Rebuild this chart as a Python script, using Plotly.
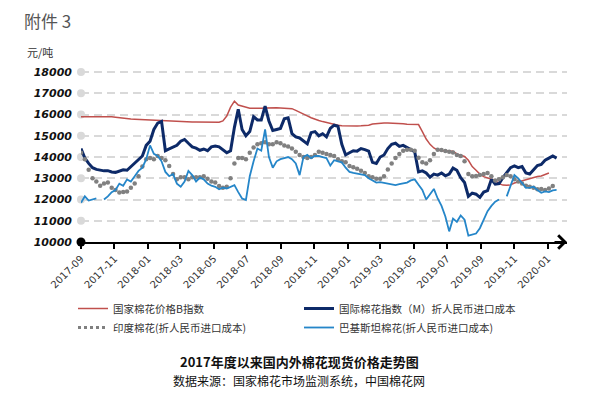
import pandas as pd
import plotly.graph_objects as go

# ---------------- data (weekly samples) ----------------
dates = pd.date_range("2017-09-01", periods=125, freq="7D")

cn_b_index = [
    15900, 15900, 15920, 15930, 15930, 15930, 15920, 15910, 15900, 15880,
    15850, 15830, 15810, 15790, 15780, 15770, 15750, 15740, 15730, 15720,
    15710, 15710, 15700, 15700, 15690, 15680, 15670, 15660, 15660, 15650,
    15650, 15650, 15640, 15630, 15620, 15620, 15640, 15700, 15930, 16350,
    16630, 16450, 16400, 16350, 16300, 16300, 16290, 16300, 16310, 16320,
    16320, 16320, 16310, 16310, 16300, 16280, 16200, 16100, 16030, 15940,
    15850, 15770, 15720, 15670, 15620, 15580, 15540, 15500, 15480, 15470,
    15470, 15460, 15460, 15470, 15480, 15500, 15560, 15580, 15590, 15600,
    15600, 15600, 15600, 15590, 15570, 15550, 15540, 15540, 15530, 15200,
    14850, 14600, 14430, 14330, 14300, 14290, 14290, 14270, 14150, 14080,
    14030, 13850, 13550, 13380, 13200, 13080, 13030, 12980, 12900, 12750,
    12680, 12670, 12690, 12780, 12830, 12870, 12950, 13000, 13050, 13080,
    13110, 13180, 13250, None, None,
]

intl_m_index = [
    14400, 13950, 13700, 13500, 13420, 13380, 13350, 13360, 13300, 13280,
    13330, 13400, 13380, 13550, 13700, 13900, 14050, 14550, 14750, 15300,
    15600, 15680, 14300, 14380, 14450, 14550, 14750, 14830, 14650, 14480,
    14420, 14320, 14380, 14300, 14480, 14520, 14480, 14350, 14200, 14300,
    15400, 16250, 15300, 15000, 15200, 15900, 15750, 15750, 16400, 15700,
    15250, 15300, 15350, 15800, 15850, 15100, 14950, 14900, 14750, 14620,
    15150, 15200, 15000, 15100, 14950, 15350, 15500, 15450, 14600, 14100,
    14200, 14300, 14280, 14400, 14350, 14280, 13750, 13700, 14000, 14100,
    14400, 14600, 14650, 14500, 14550, 14450, 14350, 14250, 13300, 13350,
    13250, 13050, 13200, 13150, 13250, 13120, 13200, 13480, 13380, 13030,
    12800, 12150, 12300, 12250, 12100, 12350, 12420, 12950, 12720, 12750,
    13030, 13250, 13500, 13580, 13500, 13550, 13250, 13200, 13400, 13600,
    13650, 13850, 13950, 14050, 13950,
]

india_cost = [
    14200, 13900, 13400, 13000, 12850, 12650, 12750, 12800, 12550, 12450,
    12330, 12350, 12380, 12550, 12750, 13100, 13550, 13900, 13950, 13900,
    14050, 13950, 13850, 13580, 13200, 12950, 13050, 13050, 12950, 13050,
    13050, 13050, 13100, 12980, 12850, 12800, 12640, 12560, 12600, 13000,
    13700, 13950, 13950, 13900, 14200, 14450, 14600, 14650, 14700, 14600,
    14600, 14700, 14650, 14550, 14500, 14400, 14250, 14100, 14000, 13950,
    14000, 14100, 14250, 14200, 14150, 14100, 14050, 13900, 13800, 13750,
    13580, 13520, 13450, 13350, 13250, 13100, 13050, 12980, 12980, 13100,
    13420, 13700, 13950, 14150, 14300, 14350, 14350, 14300, 13970, 13750,
    13700, 13850, 14150, 14350, 14330, 14280, 14250, 14220, 14100, 14050,
    13800, 13200, 13100, 13110, 13150, 13200, 13250, 13100, 12900, 12950,
    13050, 13150, 13100, 12950, 12850, 12750, 12650, 12600, 12560, 12480,
    12500, 12450, 12520, 12640, None,
]

pakistan_cost = [
    11850, 12150, 11950, 12000, 12050, None, 12000, 12150, 12350, 12450,
    12750, 12650, 12950, 12850, 13100, 13350, 13500, 13900, 14550, 14150,
    14050, 13800, 13300, 13100, 13200, 12750, 12600, 12850, 13350, 13150,
    12850, 13030, 12950, 12750, 12650, 12600, 12480, 12560, 12520, 12600,
    12680, 12350, 12050, 11980, 13100, 13800, 14400, 14300, 15300, 14000,
    13500, 13800, 13900, 13950, 14000, 13900, 13700, 13150, 14000, 14100,
    13950, 14050, 14050, 14000, 13950, 13600, 13850, 13800, 13750, 13500,
    13300, 13250, 13220, 13200, 13150, 13000, 12880, 12800, 12820, 12780,
    12750, 12700, 12680, 12720, 12750, 12800, 12900, 12950, 12700, 12450,
    12000, 12250, 12500, 12050, 11700, 11200, 10500, 11100, 10950, 11250,
    11050, 10300, 10350, 10400, 10650, 11050, 11450, 11700, 11900, 12000,
    None, 12150, 12700, 13150, 13000, 12800, 12550, 12560, 12600, 12450,
    12320, 12380, 12350, 12430, 12450,
]

series_names = [
    "国家棉花价格B指数",
    "国际棉花指数（M）折人民币进口成本",
    "印度棉花(折人民币进口成本)",
    "巴基斯坦棉花(折人民币进口成本)",
]

y_ticks = [10000, 11000, 12000, 13000, 14000, 15000, 16000, 17000, 18000]
x_range = ["2017-09-01", "2020-02-05"]

# ---------------- figure ----------------
W, H = 596, 395
L, R, T, B = 81, 29, 70, 153

fig = go.Figure()

# grid-line start dots (decoration at the left end of each gridline)
fig.add_trace(go.Scatter(
    x=[x_range[0]] * (len(y_ticks) - 1), y=y_ticks[1:], mode="markers",
    marker=dict(size=8, color="#d9d9d9"), showlegend=False, hoverinfo="skip",
    cliponaxis=False,
))

fig.add_trace(go.Scatter(
    x=dates, y=cn_b_index, mode="lines", name=series_names[0],
    line=dict(color="#c0504d", width=1.5), connectgaps=False,
))
fig.add_trace(go.Scatter(
    x=dates, y=intl_m_index, mode="lines", name=series_names[1],
    line=dict(color="#0d2a68", width=3),
))
# India: dotted (markers) + legend-only entry with dotted line
fig.add_trace(go.Scatter(
    x=dates, y=india_cost, mode="markers", showlegend=False,
    marker=dict(size=4.5, color="#808080"),
))
fig.add_trace(go.Scatter(
    x=[None], y=[None], mode="lines", name=series_names[2],
    line=dict(color="#808080", width=3, dash="dot"),
))
fig.add_trace(go.Scatter(
    x=dates, y=pakistan_cost, mode="lines", name=series_names[3],
    line=dict(color="#2586c9", width=1.8), connectgaps=False,
))

# origin dot
fig.add_trace(go.Scatter(
    x=[x_range[0]], y=[y_ticks[0]], mode="markers",
    marker=dict(size=9, color="#000000"), showlegend=False, hoverinfo="skip",
    cliponaxis=False,
))

pw = W - L - R
ph = H - T - B

def px(xpix):
    return (xpix - L) / pw

def py(ypix):
    return (H - B - ypix) / ph

fig.update_layout(
    width=W, height=H,
    margin=dict(l=L, r=R, t=T, b=B),
    paper_bgcolor="white", plot_bgcolor="white",
    font=dict(family="Noto Sans CJK SC", color="#333333"),
    showlegend=True,
    legend=dict(
        orientation="h", x=px(73), y=py(294), xanchor="left", yanchor="top",
        entrywidth=181, entrywidthmode="pixels",
        font=dict(family="Noto Sans CJK SC", size=10.5, color="#333333"),
        itemwidth=30, tracegroupgap=0, bgcolor="rgba(0,0,0,0)",
    ),
    xaxis=dict(
        type="date", range=x_range,
        showgrid=False, zeroline=False,
        showline=True, linecolor="#000000", linewidth=2,
        ticks="outside", tickcolor="#000000", ticklen=5, tickwidth=1.5,
        tick0="2017-09-01", dtick="M2", tickformat="%Y-%m", tickangle=-45,
        tickfont=dict(family="DejaVu Sans", size=10, color="#333333"),
    ),
    yaxis=dict(
        range=[10000, 18100], tickvals=y_ticks,
        tickformat="d",
        showgrid=True, gridcolor="#d9d9d9", gridwidth=2, griddash="8px,5px",
        zeroline=False, showline=False, ticks="",
        tickfont=dict(family="DejaVu Sans", size=11, color="#111111",
                      weight="bold", style="italic"),
        ticklabelstandoff=8,
    ),
    annotations=[
        dict(x=1, y=0, xref="paper", yref="paper", ax=-14, ay=0,
             axref="pixel", ayref="pixel", text="", showarrow=True,
             arrowhead=4, arrowsize=1.3, arrowwidth=2, arrowcolor="#000000"),
        dict(x=px(22), y=py(21), xref="paper", yref="paper", text="附件 3",
             showarrow=False, xanchor="left", yanchor="middle",
             font=dict(family="Noto Sans CJK SC", size=17, color="#555555")),
        dict(x=px(25), y=py(52), xref="paper", yref="paper", text="元/吨",
             showarrow=False, xanchor="left", yanchor="middle",
             font=dict(family="Noto Sans CJK SC", size=11, color="#333333")),
        dict(x=px(299), y=py(361), xref="paper", yref="paper",
             text="<b>2017年度以来国内外棉花现货价格走势图</b>",
             showarrow=False, xanchor="center", yanchor="middle",
             font=dict(family="Noto Sans CJK SC", size=13, color="#111111")),
        dict(x=px(299), y=py(380), xref="paper", yref="paper",
             text="数据来源：国家棉花市场监测系统，中国棉花网",
             showarrow=False, xanchor="center", yanchor="middle",
             font=dict(family="Noto Sans CJK SC", size=12, color="#111111")),
    ],
)

fig.write_html(
    "out.html",
    config={"displayModeBar": False},
    post_script="document.body.style.margin='0';document.body.style.padding='0';",
)
